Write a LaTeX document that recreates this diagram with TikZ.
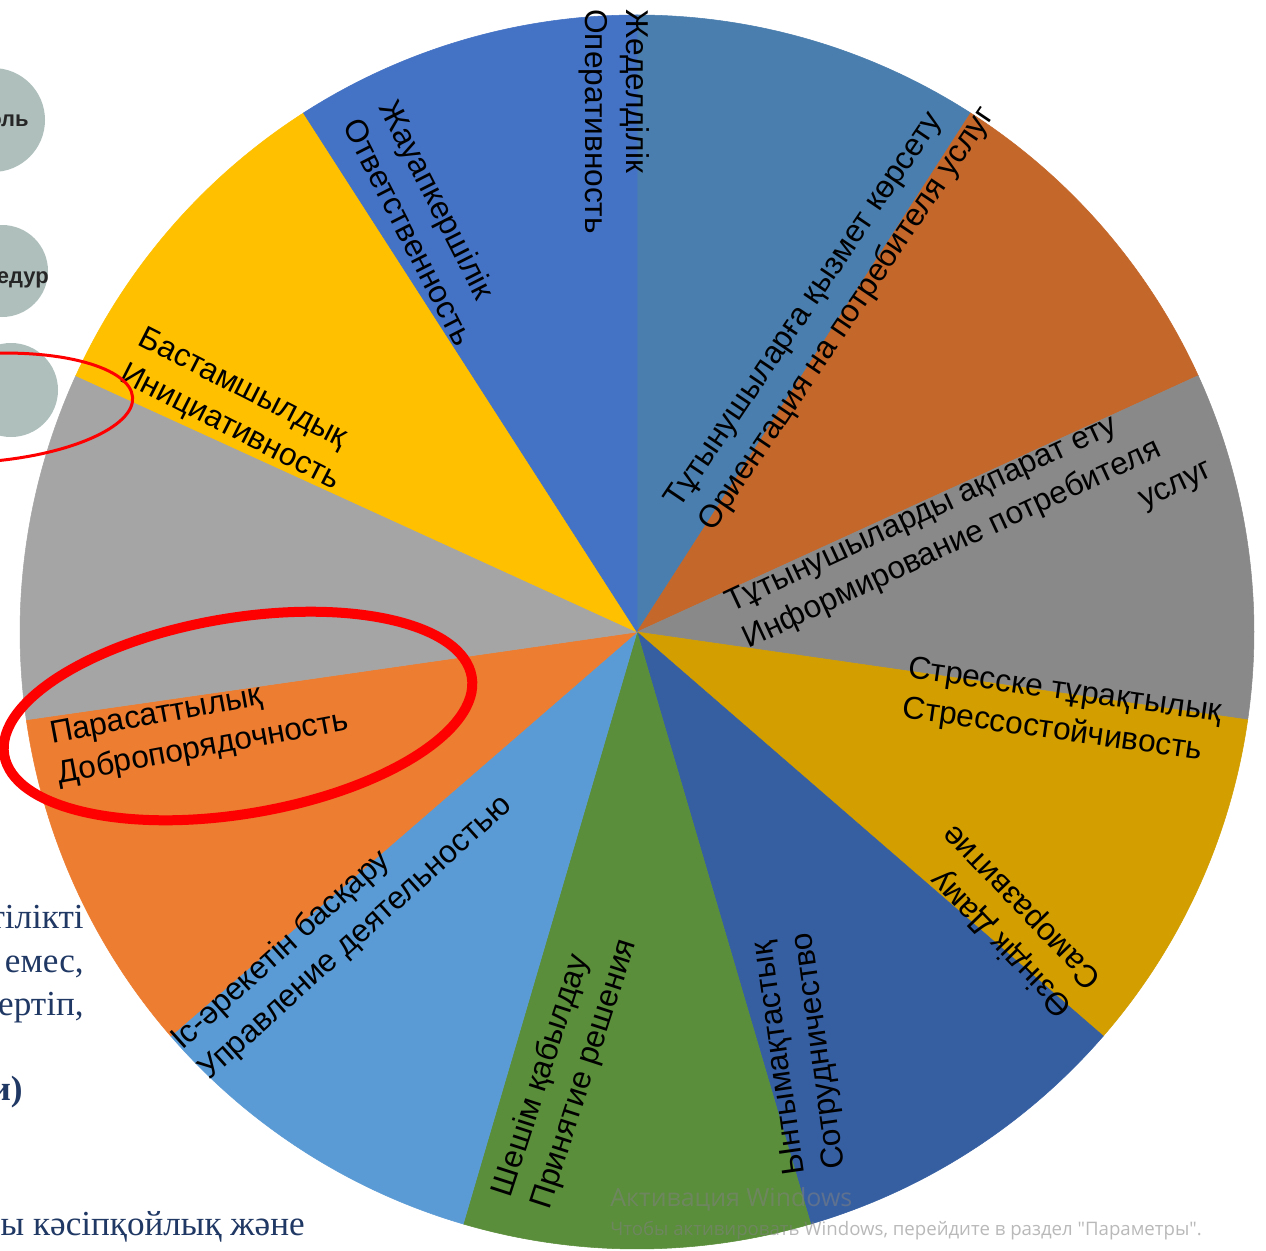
\documentclass[tikz,border=0pt]{standalone}
\usepackage{fontspec}
\setmainfont{Liberation Sans}
\newfontfamily\serifkz{Liberation Serif}
\newfontfamily\wmfont{Open Sans}
\usetikzlibrary{positioning}
\definecolor{steelwedge}{HTML}{4A7EAE}
\definecolor{brownwedge}{HTML}{C4672B}
\definecolor{darkgraywedge}{HTML}{898989}
\definecolor{goldwedge}{HTML}{D29E00}
\definecolor{navywedge}{HTML}{365FA2}
\definecolor{greenwedge}{HTML}{5A8E3A}
\definecolor{skywedge}{HTML}{5B9BD5}
\definecolor{orangewedge}{HTML}{ED7D31}
\definecolor{lightgraywedge}{HTML}{A5A5A5}
\definecolor{yellowwedge}{HTML}{FFC000}
\definecolor{bluewedge}{HTML}{4472C4}
\definecolor{pillgray}{HTML}{AEBFBC}
\definecolor{navyink}{HTML}{203864}
\newcommand{\labelfont}{\fontsize{18}{23}\selectfont}
\newcommand{\sidefont}{\serifkz\fontsize{20}{24}\selectfont}

\begin{document}
\begin{tikzpicture}[x=0.02cm, y=-0.02cm]
    \tikzstyle{wedge} = [draw=white, line width=0.3pt]
    \tikzstyle{slicelabel} = [font=\labelfont, inner sep=0pt, align=left, anchor=west]
    \tikzstyle{pilltext} = [font=\bfseries\fontsize{12.5}{14}\selectfont, text=black!85, inner sep=0pt, anchor=east]
    \tikzstyle{sidetext} = [font=\sidefont, text=navyink, inner sep=0pt, anchor=base east]
    \tikzstyle{redring} = [draw=red]
    \tikzstyle{watermark} = [text=gray, text opacity=0.55, inner sep=0pt, anchor=base west]
    \useasboundingbox[fill=white] (0,0) rectangle (1266,1250);
    \fill[pillgray] (-7,120) circle [radius=52];
    \fill[pillgray] (2,271) circle [radius=46];
    \fill[pillgray] (11,390) circle [radius=47];
    \node (control) [pilltext] at (29,121) {оль};
    \node (procedure) [pilltext] at (49,280) {едур};
    \coordinate (centre) at (637,632);
    \fill[wedge, steelwedge] (centre) -- ++(-90:617) arc[start angle=-90, end angle=-57.27, radius=617] -- cycle;
    \fill[wedge, brownwedge] (centre) -- ++(-57.27:617) arc[start angle=-57.27, end angle=-24.55, radius=617] -- cycle;
    \fill[wedge, darkgraywedge] (centre) -- ++(-24.55:617) arc[start angle=-24.55, end angle=8.18, radius=617] -- cycle;
    \fill[wedge, goldwedge] (centre) -- ++(8.18:617) arc[start angle=8.18, end angle=40.91, radius=617] -- cycle;
    \fill[wedge, navywedge] (centre) -- ++(40.91:617) arc[start angle=40.91, end angle=73.64, radius=617] -- cycle;
    \fill[wedge, greenwedge] (centre) -- ++(73.64:617) arc[start angle=73.64, end angle=106.36, radius=617] -- cycle;
    \fill[wedge, skywedge] (centre) -- ++(106.36:617) arc[start angle=106.36, end angle=139.09, radius=617] -- cycle;
    \fill[wedge, orangewedge] (centre) -- ++(139.09:617) arc[start angle=139.09, end angle=171.82, radius=617] -- cycle;
    \fill[wedge, lightgraywedge] (centre) -- ++(171.82:617) arc[start angle=171.82, end angle=204.55, radius=617] -- cycle;
    \fill[wedge, yellowwedge] (centre) -- ++(204.55:617) arc[start angle=204.55, end angle=237.27, radius=617] -- cycle;
    \fill[wedge, bluewedge] (centre) -- ++(237.27:617) arc[start angle=237.27, end angle=270, radius=617] -- cycle;
    \node (promptness) [slicelabel, rotate=-90] at (614,9) {Жеделділік\\Оперативность};
    \node (responsibility) [slicelabel, rotate=-63] at (370,111) {Жауапкершілік\\Ответственность};
    \node (service) [slicelabel, rotate=56] at (690,517) {Тұтынушыларға қызмет көрсету\\Ориентация на потребителя услуг};
    \node (inform) [slicelabel, rotate=25] at (745,642) {Тұтынушыларды ақпарат ету\\Информирование потребителя\\\hspace*{238pt}услуг};
    \node (stress) [slicelabel, rotate=-8] at (905,690) {Стресске тұрақтылық\\Стрессостойчивость};
    \node (selfdev) [slicelabel, rotate=134] at (1082,997) {Өзіндік Даму\\Саморазвитие};
    \node (cooperation) [slicelabel, rotate=98] at (817,1172) {Ынтымақтастық\\Сотрудничество};
    \node (decision) [slicelabel, rotate=72] at (522,1202) {Шешім қабылдау\\Принятие решения};
    \node (activity) [slicelabel, rotate=42] at (190,1060) {Іс-әрекетін басқару\\Управление деятельностью};
    \node (integrity) [slicelabel, rotate=10.5] at (54,756) {Парасаттылық\\Добропорядочность};
    \node (initiative) [slicelabel, rotate=-27] at (131,355) {Бастамшылдық\\Инициативность};
    \draw[redring, line width=0.06cm, rotate around={4:(-20,408)}] (-20,408) ellipse [x radius=153, y radius=54];
    \draw[redring, line width=0.2cm, rotate around={9.5:(238,716)}] (238,716) ellipse [x radius=237, y radius=98];
    \node (qual) [sidetext] at (84,928) {тілікті};
    \node (notx) [sidetext] at (84,972) {емес,};
    \node (lead) [sidetext] at (84,1015) {ертіп,};
    \node (paren) [sidetext, font=\sidefont\bfseries] at (23,1100) {и)};
    \node (prof) [sidetext] at (305,1235) {ы кәсіпқойлық және};
    \node (activate) [watermark, font=\wmfont\fontsize{14.2}{17}\selectfont] at (610,1206) {Активация Windows};
    \node (hint) [watermark, font=\wmfont\fontsize{10.6}{12}\selectfont] at (610,1235) {Чтобы активировать Windows, перейдите в раздел "Параметры".};
\end{tikzpicture}
\end{document}
